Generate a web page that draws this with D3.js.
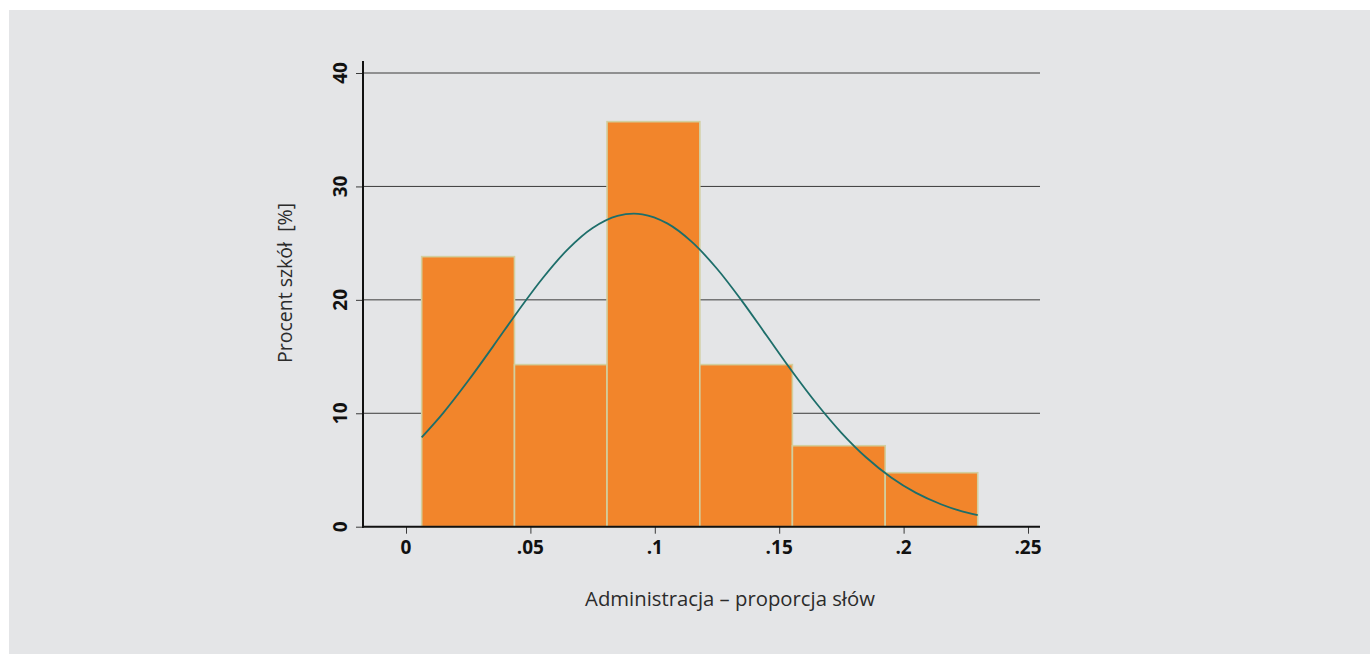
<!DOCTYPE html>
<html>
<head>
<meta charset="utf-8">
<script src="https://cdn.jsdelivr.net/npm/d3@7"></script>
<style>
  html, body { margin: 0; padding: 0; background: #ffffff; }
  svg { display: block; }
</style>
</head>
<body>
<svg id="chart" width="1370" height="654"></svg>
<script>
// Histogram bins (bin edges on the x axis) and share of schools per bin [%]
const binEdges = [0.0063, 0.0436, 0.0808, 0.1181, 0.1553, 0.1926, 0.2298];
const percents = [23.81, 14.29, 35.71, 14.29, 7.14, 4.76];

// Overlaid normal-density curve, sampled along x (in % per bin)
const curveX = [0.0063, 0.015, 0.025, 0.035, 0.045, 0.055, 0.065, 0.075, 0.085, 0.095,
                0.105, 0.115, 0.125, 0.135, 0.145, 0.155, 0.165, 0.175, 0.185, 0.195,
                0.205, 0.215, 0.2225, 0.2298];
const curveY = [7.88, 10.04, 12.86, 15.90, 19.00, 21.93, 24.45, 26.33, 27.40, 27.54,
                26.74, 25.09, 22.74, 19.91, 16.83, 13.75, 10.86, 8.28, 6.10, 4.34,
                2.98, 1.98, 1.42, 1.02];

// Axis ticks
const xTicks = [0, 0.05, 0.1, 0.15, 0.2, 0.25];
const xTickLabels = ["0", ".05", ".1", ".15", ".2", ".25"];
const yTicks = [0, 10, 20, 30, 40];

const xTitle = "Administracja \u2013 proporcja słów";
const yTitle = "Procent szkół\u00a0 [%]";

const svg = d3.select("#chart");

// panel background
svg.append("rect")
  .attr("x", 9).attr("y", 10)
  .attr("width", 1361).attr("height", 644)
  .attr("fill", "#e4e5e7");

const x = d3.scaleLinear().domain([0, 0.25]).range([406, 1028]);
const y = d3.scaleLinear().domain([0, 40]).range([526.7, 73]);

const axisLeftX = 363;
const plotRight = 1040;
const axisTop = 61;

// horizontal grid lines
svg.append("g")
  .selectAll("line")
  .data(yTicks.filter(d => d > 0))
  .join("line")
  .attr("x1", axisLeftX).attr("x2", plotRight)
  .attr("y1", d => y(d)).attr("y2", d => y(d))
  .attr("stroke", "#3a3a3a")
  .attr("stroke-width", 1);

// histogram bars
const bars = percents.map((v, i) => ({ x0: binEdges[i], x1: binEdges[i + 1], v }));
svg.append("g")
  .selectAll("rect")
  .data(bars)
  .join("rect")
  .attr("x", d => x(d.x0))
  .attr("y", d => y(d.v))
  .attr("width", d => x(d.x1) - x(d.x0))
  .attr("height", d => y(0) - y(d.v))
  .attr("fill", "#f2852b")
  .attr("stroke", "#d2cf9f")
  .attr("stroke-width", 1.6);

// normal curve
const line = d3.line()
  .x(d => x(d[0]))
  .y(d => y(d[1]))
  .curve(d3.curveCatmullRom.alpha(0.5));
svg.append("path")
  .datum(curveX.map((v, i) => [v, curveY[i]]))
  .attr("d", line)
  .attr("fill", "none")
  .attr("stroke", "#1d6e6a")
  .attr("stroke-width", 1.8);

// y axis: ticks via d3.axisLeft, labels drawn rotated
const yAxis = d3.axisLeft(y).tickValues(yTicks).tickSize(7).tickSizeOuter(0).tickFormat("");
const gy = svg.append("g").attr("transform", `translate(${axisLeftX},0)`).call(yAxis);
gy.select(".domain").remove();
gy.selectAll(".tick line").attr("stroke", "#3a3a3a").attr("stroke-width", 1);

svg.append("line")
  .attr("x1", axisLeftX).attr("x2", axisLeftX)
  .attr("y1", axisTop).attr("y2", y(0) + 1)
  .attr("stroke", "#111").attr("stroke-width", 2);

svg.append("g")
  .selectAll("text")
  .data(yTicks)
  .join("text")
  .attr("transform", d => `translate(347,${y(d)}) rotate(-90)`)
  .attr("text-anchor", "middle")
  .attr("font-family", "'Open Sans', sans-serif")
  .attr("font-weight", 700)
  .attr("font-size", 19)
  .attr("fill", "#111")
  .text(d => d);

// x axis
const xAxis = d3.axisBottom(x).tickValues(xTicks).tickSize(7).tickSizeOuter(0).tickFormat("");
const gx = svg.append("g").attr("transform", `translate(0,${y(0)})`).call(xAxis);
gx.select(".domain").remove();
gx.selectAll(".tick line").attr("stroke", "#3a3a3a").attr("stroke-width", 1);

svg.append("line")
  .attr("x1", axisLeftX - 1).attr("x2", plotRight)
  .attr("y1", y(0)).attr("y2", y(0))
  .attr("stroke", "#111").attr("stroke-width", 2);

svg.append("g")
  .selectAll("text")
  .data(xTicks)
  .join("text")
  .attr("x", d => x(d))
  .attr("y", 554)
  .attr("text-anchor", "middle")
  .attr("font-family", "'Open Sans', sans-serif")
  .attr("font-weight", 700)
  .attr("font-size", 19)
  .attr("fill", "#111")
  .text((d, i) => xTickLabels[i]);

// axis titles
svg.append("text")
  .attr("x", 730).attr("y", 606)
  .attr("text-anchor", "middle")
  .attr("font-family", "'Open Sans', sans-serif")
  .attr("font-size", 20.3)
  .attr("fill", "#2b2b2b")
  .text(xTitle);

svg.append("text")
  .attr("transform", "translate(292,283) rotate(-90)")
  .attr("text-anchor", "middle")
  .attr("font-family", "'Open Sans', sans-serif")
  .attr("font-size", 19.5)
  .attr("fill", "#2b2b2b")
  .text(yTitle);
</script>
</body>
</html>
